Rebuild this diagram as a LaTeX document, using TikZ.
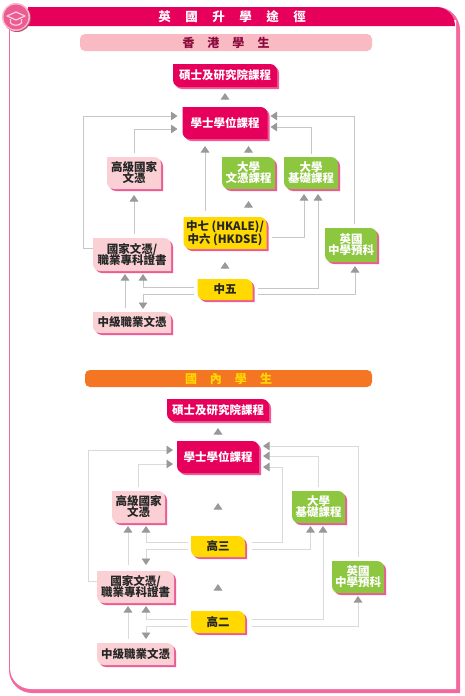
\documentclass[tikz,border=0pt]{standalone}
\usepackage{xcolor}
\usepackage{fontspec}
\setmainfont{Noto Sans CJK TC}
\usetikzlibrary{arrows.meta, positioning, backgrounds}
\definecolor{rosered}{HTML}{E6005C}
\definecolor{framepink}{HTML}{F2689F}
\definecolor{shadowpink}{HTML}{EC5B94}
\definecolor{palepink}{HTML}{FAD0D4}
\definecolor{barpink}{HTML}{F9BAC4}
\definecolor{barorange}{HTML}{F47522}
\definecolor{leafgreen}{HTML}{8DC63F}
\definecolor{sunyellow}{HTML}{FFD900}
\definecolor{maroon}{HTML}{8A0A3C}
\definecolor{linegray}{HTML}{C6C6C6}
\definecolor{softgray}{HTML}{DADADA}
\definecolor{tipgray}{HTML}{999999}
\newcommand{\gap}{\hspace{13pt}}
\tikzset{
    flowbox/.style={rectangle, outer sep=0pt, inner sep=0pt, align=center, text=black!85, font=\fontsize{11.5}{13}\selectfont\bfseries},
    lightbox/.style={flowbox, text=white},
    boxsize/.style 2 args={minimum width=#1pt, minimum height=#2pt},
    sectionbar/.style={rectangle, rounded corners=5pt, outer sep=0pt, inner sep=0pt, minimum height=17pt, font=\fontsize{12}{12}\selectfont\bfseries},
    arrow/.style={linegray, line width=0.8pt, -{Triangle[length=6.5pt, width=8.5pt, color=tipgray, fill=tipgray]}},
    softarrow/.style={arrow, softgray}
}
% one box: top right and bottom left corners are round
\newcommand{\boxpath}[1]{(#1.north west) -- ([xshift=-7pt]#1.north east) arc (90:0:7pt) -- (#1.south east) -- ([xshift=7pt]#1.south west) arc (270:180:7pt) -- cycle}
\begin{document}
\begin{tikzpicture}[x=1pt, y=-1pt, node distance=20pt]
    \useasboundingbox (0,0) rectangle (465,696);

    % Place nodes
    \node [sectionbar, minimum width=0pt, text=white, font=\fontsize{12.5}{12}\selectfont\bfseries] (title) at (232,17) {英\hspace{14.5pt}國\hspace{14.5pt}升\hspace{14.5pt}學\hspace{14.5pt}途\hspace{14.5pt}徑};
    \node [sectionbar, fill=barpink, text=maroon, minimum width=292pt] (hkbar) at (226,42.5) {香\gap 港\gap 學\gap 生};
    \node [sectionbar, fill=barorange, text=sunyellow, minimum width=287pt] (mainbar) at (228.5,378.5) {國\gap 內\gap 學\gap 生};

    % Hong Kong students
    \node [lightbox, boxsize={104}{23}] (hkmaster) at (225,75.5) {碩士及研究院課程};
    \node [lightbox, boxsize={85}{32}, below=of hkmaster] (hkbachelor) {學士學位課程};
    \node [flowbox, boxsize={54}{32}, below=18pt of hkbachelor, xshift=-91pt] (hkhd) {高級國家\\[-2pt]文憑};
    \node [lightbox, boxsize={53}{32}, below=18pt of hkbachelor, xshift=23.5pt] (hkdiploma) {大學\\[-2pt]文憑課程};
    \node [lightbox, boxsize={54}{32}, below=18pt of hkbachelor, xshift=86pt] (hkfound) {大學\\[-2pt]基礎課程};
    \node [flowbox, boxsize={83}{32}, below=78pt of hkbachelor] (hkale) {中七 (HKALE)/\\中六 (HKDSE)};
    \node [flowbox, boxsize={55}{21}, below=30pt of hkale] (hkfive) {中五};
    \node [flowbox, boxsize={78}{33}, below=49pt of hkhd, xshift=-2pt] (hkhnd) {國家文憑/\\[-2pt]職業專科證書};
    \node [lightbox, boxsize={52}{34}, below=39pt of hkfound, xshift=40pt] (hkuk) {英國\\[-2pt]中學預科};
    \node [flowbox, boxsize={78}{21}, below=41pt of hkhnd] (hkvoc) {中級職業文憑};

    % Mainland students
    \node [lightbox, boxsize={102}{22}] (cnmaster) at (218,410) {碩士及研究院課程};
    \node [lightbox, boxsize={82}{32}, below=of cnmaster] (cnbachelor) {學士學位課程};
    \node [flowbox, boxsize={53}{32}, below=18pt of cnbachelor, xshift=-79.5pt] (cnhd) {高級國家\\[-2pt]文憑};
    \node [lightbox, boxsize={53}{32}, below=18pt of cnbachelor, xshift=100.5pt] (cnfound) {大學\\[-2pt]基礎課程};
    \node [flowbox, boxsize={54}{21}, below=63pt of cnbachelor] (cnthree) {高三};
    \node [flowbox, boxsize={77}{32}, below=48pt of cnhd, xshift=-3pt] (cnhnd) {國家文憑/\\[-2pt]職業專科證書};
    \node [lightbox, boxsize={52}{32}, below=38pt of cnfound, xshift=39.5pt] (cnuk) {英國\\[-2pt]中學預科};
    \node [flowbox, boxsize={54}{22}, below=54pt of cnthree] (cntwo) {高二};
    \node [flowbox, boxsize={77}{22}, below=40pt of cnhnd] (cnvoc) {中級職業文憑};

    % Frame and box backgrounds
    \begin{pgfonlayer}{background}
        \fill [framepink] (9,20) -- (9,670) arc (180:270:23pt) -- (460,693) -- (460,30) arc (0:90:23pt) -- cycle;
        \fill [white] (10,20) -- (10,668) arc (180:270:21pt) -- (456,689) -- (456,20) -- cycle;
        \fill [rosered] (28,7) -- (436,7) arc (90:0:19pt) -- (455,26) -- (28,26) -- cycle;
        \foreach \n/\c in {hkmaster/rosered, hkbachelor/rosered, hkhd/palepink, hkdiploma/leafgreen, hkfound/leafgreen, hkale/sunyellow, hkfive/sunyellow, hkhnd/palepink, hkuk/leafgreen, hkvoc/palepink,
            cnmaster/rosered, cnbachelor/rosered, cnhd/palepink, cnfound/leafgreen, cnthree/sunyellow, cnhnd/palepink, cnuk/leafgreen, cntwo/sunyellow, cnvoc/palepink} {
            \fill [shadowpink, transform canvas={shift={(2pt,-2pt)}}] \boxpath{\n};
            \fill [\c] \boxpath{\n};
        }
    \end{pgfonlayer}

    % Badge with cap
    \fill [shadowpink!80!black] (17,18) circle (14pt);
    \fill [barpink] (16,17) circle (14pt);
    \fill [shadowpink] (16,17) circle (12.5pt);
    \draw [palepink, line width=1.2pt, line join=round] (7,16) -- (16,12) -- (25,16) -- (16,20) -- cycle;
    \draw [palepink, line width=1.2pt] (10.5,19) -- (10.5,23) .. controls (13,26) and (19,26) .. (21.5,23) -- (21.5,19);

    % Draw edges, Hong Kong students
    \draw [arrow, shorten <=8pt, shorten >=6pt] (hkbachelor) -- (hkmaster);
    \draw [arrow, shorten >=5pt] ([yshift=6.5pt]hkhnd.west) -- ++(-10,0) |- ([yshift=7pt]hkbachelor.west);
    \draw [arrow, shorten <=4pt, shorten >=5pt] (hkhd.north) |- ([yshift=-6pt]hkbachelor.west);
    \draw [arrow, shorten <=4pt, shorten >=3pt] ([xshift=3pt]hkuk.north) |- ([yshift=7pt]hkbachelor.east);
    \draw [arrow, shorten <=3pt, shorten >=3pt] (hkfound.north) |- ([yshift=-4pt]hkbachelor.east);
    \draw [arrow, shorten <=5pt, shorten >=7pt] (hkdiploma.north) -- ([xshift=23.5pt]hkbachelor.south);
    \draw [arrow, shorten <=10pt, shorten >=12pt] ([xshift=23.5pt]hkale.north) -- (hkdiploma.south);
    \draw [arrow, shorten <=6pt, shorten >=7pt] ([xshift=-20pt]hkale.north) -- ([xshift=-20pt]hkbachelor.south);
    \draw [arrow, shorten <=11pt, shorten >=13pt] (hkfive) -- (hkale);
    \draw [arrow, shorten <=5pt, shorten >=5pt] ([yshift=-4pt]hkale.east) -| ([xshift=-7pt]hkfound.south);
    \draw [arrow, shorten <=5pt, shorten >=5pt] ([yshift=1.5pt]hkfive.east) -| ([xshift=7pt]hkfound.south);
    \draw [arrow, shorten <=5pt, shorten >=4pt] ([yshift=-4.5pt]hkfive.east) -| ([xshift=4pt]hkuk.south);
    \draw [arrow, shorten <=4pt, shorten >=3pt] ([yshift=2.5pt]hkfive.west) -| ([xshift=11pt]hkhnd.south);
    \draw [arrow, shorten <=4pt, shorten >=3pt] ([yshift=-4.5pt]hkfive.west) -| ([xshift=11pt]hkvoc.north);
    \draw [arrow, shorten <=4pt, shorten >=3pt] ([xshift=-7pt]hkvoc.north) -- ([xshift=-7pt]hkhnd.south);
    \draw [arrow, shorten <=4pt, shorten >=6pt] ([xshift=2pt]hkhnd.north) -- (hkhd.south);

    % Draw edges, mainland students
    \draw [softarrow, shorten <=7pt, shorten >=7pt] (cnbachelor) -- (cnmaster);
    \draw [softarrow, shorten >=4pt] ([yshift=6pt]cnhnd.west) -- ++(-9,0) |- ([yshift=7pt]cnbachelor.west);
    \draw [softarrow, shorten <=4pt, shorten >=4pt] (cnhd.north) |- ([yshift=-7pt]cnbachelor.west);
    \draw [softarrow, shorten <=4pt, shorten >=4pt] (cnuk.north) |- ([yshift=11pt]cnbachelor.east);
    \draw [softarrow, shorten <=4pt, shorten >=4pt] (cnfound.north) |- ([yshift=1pt]cnbachelor.east);
    \draw [softarrow, shorten <=7pt, shorten >=4pt] ([yshift=4.5pt]cnthree.east) -- ++(37,0) |- ([yshift=-10pt]cnbachelor.east);
    \draw [softarrow, shorten <=26pt, shorten >=30pt] (cnthree) -- (cnbachelor);
    \draw [softarrow, shorten <=20pt, shorten >=27pt] (cntwo) -- (cnthree);
    \draw [softarrow, shorten <=7pt, shorten >=3pt] ([yshift=-2.5pt]cnthree.east) -| ([xshift=-8pt]cnfound.south);
    \draw [softarrow, shorten <=7pt, shorten >=3pt] ([yshift=3pt]cntwo.east) -| ([xshift=4.5pt]cnfound.south);
    \draw [softarrow, shorten <=7pt, shorten >=3pt] ([yshift=-4pt]cntwo.east) -| (cnuk.south);
    \draw [softarrow, shorten <=3pt, shorten >=3pt] ([yshift=4.5pt]cnthree.west) -| ([xshift=7.5pt]cnhd.south);
    \draw [softarrow, shorten <=3pt, shorten >=6pt] ([yshift=-2.5pt]cnthree.west) -| ([xshift=10.5pt]cnhnd.north);
    \draw [softarrow, shorten <=6pt, shorten >=3pt] ([xshift=-7.5pt]cnhnd.north) -- ([xshift=-10.5pt]cnhd.south);
    \draw [softarrow, shorten <=3pt, shorten >=3pt] ([yshift=3pt]cntwo.west) -| ([xshift=10.5pt]cnhnd.south);
    \draw [softarrow, shorten <=3pt, shorten >=4pt] ([yshift=-4pt]cntwo.west) -| ([xshift=10.5pt]cnvoc.north);
    \draw [softarrow, shorten <=4pt, shorten >=3pt] ([xshift=-7.5pt]cnvoc.north) -- ([xshift=-7.5pt]cnhnd.south);
\end{tikzpicture}
\end{document}
